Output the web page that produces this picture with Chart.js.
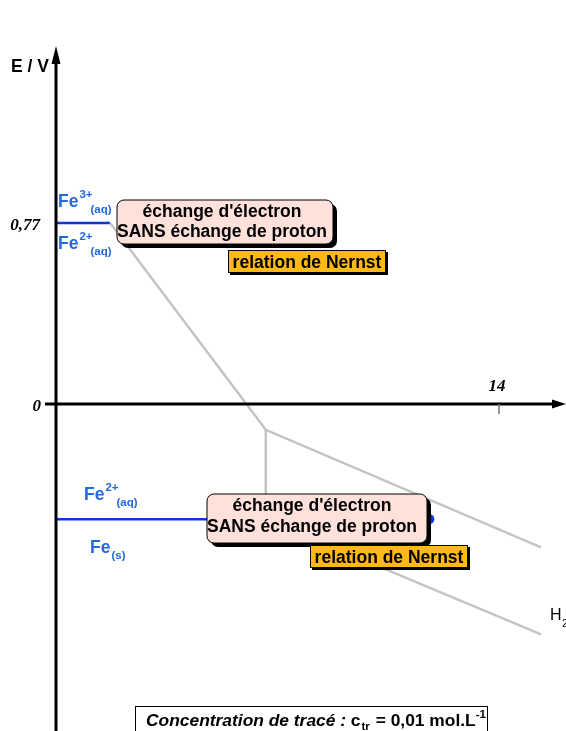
<!DOCTYPE html>
<html>
<head>
<meta charset="utf-8">
<script src="https://cdn.jsdelivr.net/npm/chart.js@4"></script>
<style>
  html, body { margin: 0; padding: 0; background: #fff; }
  canvas { display: block; }
</style>
</head>
<body>
<canvas id="pourbaix" width="566" height="731"></canvas>
<script>
// Diagramme E-pH du fer (c_tr = 0,01 mol/L)
const ticksE = [0, 0.77];
const ticksELabels = ['0', '0,77'];
const ticksPH = [14];
const ticksPHLabels = ['14'];

// frontières Fe3+/Fe2+ et Fe2+/Fe (traits bleus)
const fe3Fe2PH = [0, 1.71];
const fe3Fe2E = [0.77, 0.77];
const fe2FePH = [0, 6.63];
const fe2FeE = [-0.49, -0.49];

// frontières avec les hydroxydes (traits gris)
const hautPH = [1.71, 6.63, 15.33];
const hautE = [0.77, -0.11, -0.61];
const vertPH = [6.63, 6.63];
const vertE = [-0.11, -0.49];
const basPH = [6.63, 15.33];
const basE = [-0.49, -0.98];

const pointBleuPH = [11.8];
const pointBleuE = [-0.49];

const toXY = (xs, ys) => xs.map((x, i) => ({ x: x, y: ys[i] }));

const BLEU = '#1034e0';
const BLEU_TXT = '#2468dc';
const GRIS = '#c4c4c4';
const SANS = '"Liberation Sans", Arial, sans-serif';
const SERIF = '"Liberation Serif", "Times New Roman", serif';
const TAILLE = 17.5;

function boiteRose(ctx, x, y, w, h, lignes, cx, bases) {
    ctx.save();
    ctx.fillStyle = '#000';
    ctx.beginPath();
    ctx.roundRect(x + 4, y + 4, w, h, 7);
    ctx.fill();
    ctx.fillStyle = '#ffe1dc';
    ctx.strokeStyle = '#000';
    ctx.lineWidth = 1;
    ctx.beginPath();
    ctx.roundRect(x, y, w, h, 7);
    ctx.fill();
    ctx.stroke();
    ctx.fillStyle = '#000';
    ctx.font = 'bold ' + TAILLE + 'px ' + SANS;
    ctx.textAlign = 'center';
    ctx.textBaseline = 'alphabetic';
    lignes.forEach((t, i) => ctx.fillText(t, cx, bases[i]));
    ctx.restore();
}

function boiteOrange(ctx, x, y, w, h, texte, base) {
    ctx.save();
    ctx.fillStyle = '#000';
    ctx.fillRect(x + 2, y + 2, w, h);
    ctx.fillStyle = '#ffb914';
    ctx.strokeStyle = '#000';
    ctx.lineWidth = 1;
    ctx.fillRect(x, y, w, h);
    ctx.strokeRect(x + 0.5, y + 0.5, w - 1, h - 1);
    ctx.fillStyle = '#000';
    ctx.font = 'bold ' + TAILLE + 'px ' + SANS;
    ctx.textAlign = 'center';
    ctx.fillText(texte, x + w / 2, base);
    ctx.restore();
}

// espèce chimique : symbole, exposant, indice
function espece(ctx, x, base, sym, sup, sub) {
    ctx.save();
    ctx.fillStyle = BLEU_TXT;
    ctx.textAlign = 'left';
    ctx.font = 'bold 17.5px ' + SANS;
    ctx.fillText(sym, x, base);
    const w = ctx.measureText(sym).width;
    ctx.font = 'bold 11.5px ' + SANS;
    let wSup = 0;
    if (sup) {
        ctx.fillText(sup, x + w + 1, base - 9);
        wSup = ctx.measureText(sup).width;
    }
    if (sub) {
        ctx.fillText(sub, x + w + (sup ? wSup - 1 : 1), base + 6);
    }
    ctx.restore();
}

const decor = {
    id: 'decor',
    afterDatasetsDraw(chart) {
        const ctx = chart.ctx;
        const sx = chart.scales.x, sy = chart.scales.y;
        const x0 = sx.getPixelForValue(0);
        const y0 = sy.getPixelForValue(0);

        ctx.save();
        // axes
        ctx.strokeStyle = '#000';
        ctx.fillStyle = '#000';
        ctx.lineWidth = 3;
        ctx.beginPath();
        ctx.moveTo(x0, chart.height);
        ctx.lineTo(x0, 58);
        ctx.moveTo(x0 - 11, y0);
        ctx.lineTo(chart.width - 8, y0);
        ctx.stroke();
        ctx.beginPath();
        ctx.moveTo(x0, 46);
        ctx.lineTo(x0 - 4.5, 64);
        ctx.lineTo(x0 + 4.5, 64);
        ctx.closePath();
        ctx.fill();
        ctx.beginPath();
        ctx.moveTo(chart.width, y0);
        ctx.lineTo(chart.width - 14, y0 - 4.5);
        ctx.lineTo(chart.width - 14, y0 + 4.5);
        ctx.closePath();
        ctx.fill();

        // graduations
        ctx.strokeStyle = '#777';
        ctx.lineWidth = 1.5;
        ticksPH.forEach(v => {
            const px = sx.getPixelForValue(v);
            ctx.beginPath();
            ctx.moveTo(px, y0);
            ctx.lineTo(px, y0 + 10);
            ctx.stroke();
        });
        ctx.font = 'italic bold 17px ' + SERIF;
        ctx.textBaseline = 'middle';
        ctx.textAlign = 'right';
        ticksE.forEach((v, i) => {
            ctx.fillText(ticksELabels[i], x0 - (v === 0 ? 15 : 16), sy.getPixelForValue(v) + 3);
        });
        ctx.textAlign = 'center';
        ctx.textBaseline = 'alphabetic';
        ticksPH.forEach((v, i) => {
            ctx.fillText(ticksPHLabels[i], sx.getPixelForValue(v) - 2, y0 - 13);
        });

        // titre de l'axe
        ctx.font = 'bold 17.5px ' + SANS;
        ctx.textAlign = 'left';
        ctx.fillText('E / V', 11, 72);

        // espèces
        espece(ctx, 58, 207, 'Fe', '3+', '(aq)');
        espece(ctx, 58, 249, 'Fe', '2+', '(aq)');
        espece(ctx, 84, 500, 'Fe', '2+', '(aq)');
        espece(ctx, 90, 553, 'Fe', '', '(s)');

        ctx.fillStyle = '#000';
        ctx.font = '16px ' + SANS;
        ctx.fillText('H', 550, 620);
        ctx.font = '11px ' + SANS;
        ctx.fillText('2', 562, 627);

        // encadrés
        boiteRose(ctx, 117, 200, 216, 44, ["échange d'électron", 'SANS échange de proton'], 222, [217, 237]);
        boiteOrange(ctx, 228, 250, 158, 23, 'relation de Nernst', 268);
        boiteRose(ctx, 207, 494, 220, 49, ["échange d'électron", 'SANS échange de proton'], 312, [511, 532]);
        boiteOrange(ctx, 310, 545, 158, 23, 'relation de Nernst', 563);

        // concentration de tracé
        ctx.fillStyle = '#fff';
        ctx.fillRect(135, 706, 353, 30);
        ctx.strokeStyle = '#000';
        ctx.lineWidth = 1;
        ctx.strokeRect(135.5, 706.5, 352, 30);
        ctx.fillStyle = '#000';
        let x = 146;
        const base = 726;
        ctx.font = 'italic bold 17.4px ' + SANS;
        const t1 = 'Concentration de tracé : ';
        ctx.fillText(t1, x, base);
        x += ctx.measureText(t1).width;
        ctx.font = 'bold 17.4px ' + SANS;
        ctx.fillText('c', x, base);
        x += ctx.measureText('c').width;
        ctx.font = 'bold 11.5px ' + SANS;
        ctx.fillText('tr', x + 1, base + 4);
        x += ctx.measureText('tr').width + 2;
        ctx.font = 'bold 17.4px ' + SANS;
        const t2 = ' = 0,01 mol.L';
        ctx.fillText(t2, x, base);
        x += ctx.measureText(t2).width;
        ctx.font = 'bold 11.5px ' + SANS;
        ctx.fillText('-1', x, base - 8);
        ctx.restore();
    }
};

const ligne = (data, color) => ({
    data: data,
    borderColor: color,
    borderWidth: 2.5,
    pointRadius: 0,
    fill: false,
    tension: 0
});

new Chart(document.getElementById('pourbaix'), {
    type: 'line',
    data: {
        datasets: [
            ligne(toXY(hautPH, hautE), GRIS),
            ligne(toXY(vertPH, vertE), GRIS),
            ligne(toXY(basPH, basE), GRIS),
            ligne(toXY(fe3Fe2PH, fe3Fe2E), BLEU),
            ligne(toXY(fe2FePH, fe2FeE), BLEU),
            {
                type: 'scatter',
                data: toXY(pointBleuPH, pointBleuE),
                pointRadius: 5,
                backgroundColor: BLEU,
                borderWidth: 0
            }
        ]
    },
    options: {
        responsive: false,
        animation: false,
        layout: { padding: 0, autoPadding: false },
        plugins: { legend: { display: false }, tooltip: { enabled: false } },
        scales: {
            x: { type: 'linear', display: false, min: -1.770, max: 16.119 },
            y: { type: 'linear', display: false, min: -1.3915, max: 1.7191 }
        }
    },
    plugins: [decor]
});
</script>
</body>
</html>
